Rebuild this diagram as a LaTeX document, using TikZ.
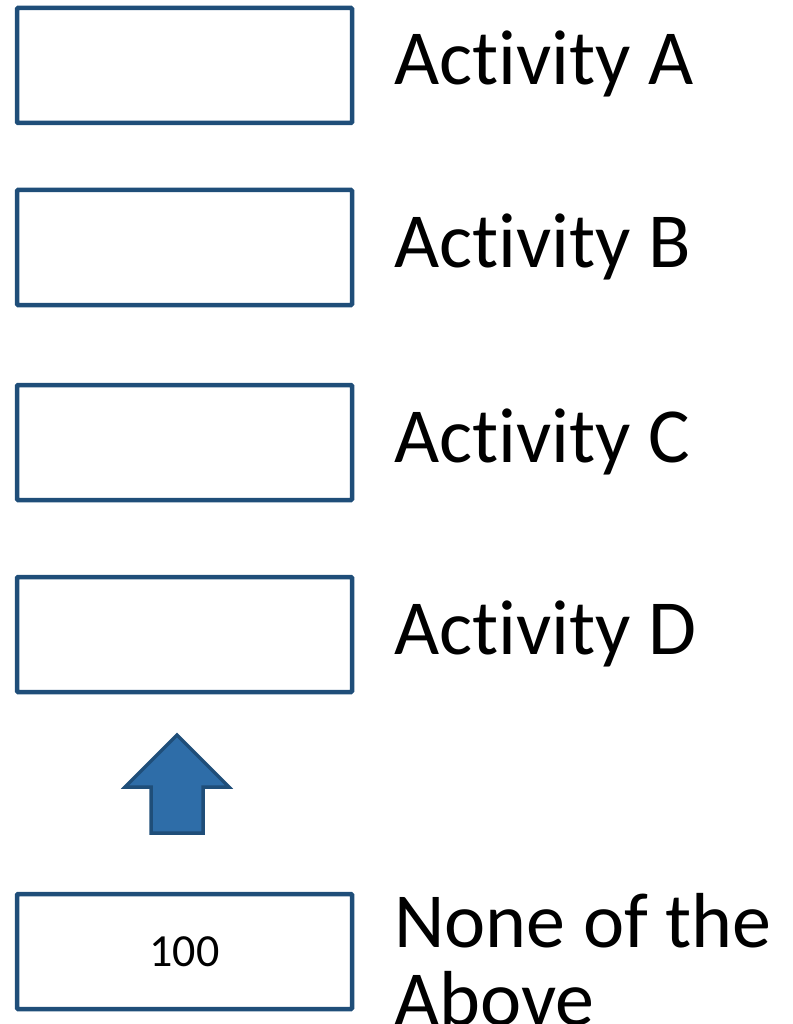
\documentclass[tikz,border=0pt]{standalone}
\usepackage{fontspec}
\setmainfont{Carlito}[Ligatures=NoCommon]
\usetikzlibrary{positioning}
\definecolor{boxblue}{RGB}{31,78,121}
\definecolor{arrowblue}{RGB}{46,109,168}

\begin{document}
\begin{tikzpicture}[
            x=1pt, y=-1pt,
            act-box/.style={
                draw=boxblue,
                line width=4.5pt,
                fill=white,
                rounded corners=1pt,
                minimum width=335pt,
                minimum height=115pt,
                inner sep=0pt,
                font=\fontsize{46}{55}\selectfont
            },
            act-label/.style={
                anchor=base west,
                inner sep=0pt,
                align=left,
                font=\fontsize{78}{78}\selectfont
            },
            up-arrow/.style={
                draw=boxblue,
                line width=3.5pt,
                fill=arrowblue,
                line join=miter
            }
        ]
        \useasboundingbox (0, 0) rectangle (792, 1024);
        \foreach \name/\top in {A/8, B/190, C/385, D/577} {
            \node[act-box] (box\name) at (184.5, \top + 57.5) {};
            \node[act-label] (label\name) at (394, \top + 77) {Activity \name};
        }
        \node[act-box] (boxNone) at (184.5, 951.5) {100};
        % base of a two-line node sits on its last line
        \node[act-label] (labelNone) at (394, 1025) {None of the\\Above};
        % arrow between D and the last box
        \filldraw[up-arrow] (177, 735) -- (229, 787) -- (203, 787) -- (203, 833)
            -- (151, 833) -- (151, 787) -- (125, 787) -- cycle;
        \end{tikzpicture}
\end{document}
